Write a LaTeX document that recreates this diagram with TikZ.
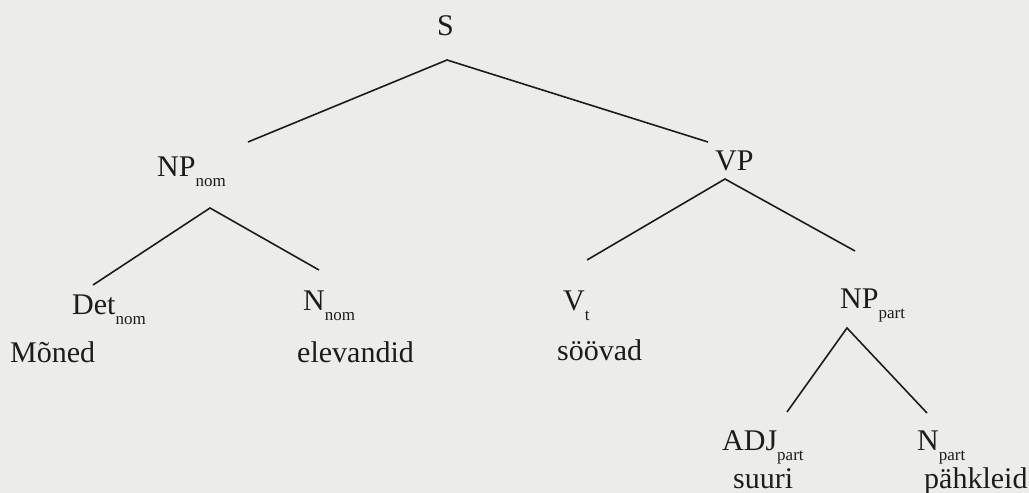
\documentclass[tikz,border=0pt]{standalone}
\usepackage{fontspec}
\setmainfont{Liberation Serif}
\definecolor{paper}{RGB}{236,236,233}
\definecolor{ink}{RGB}{28,28,28}
\newcommand{\cat}[2]{#1\raisebox{-10pt}{\fontsize{17}{17}\selectfont #2}}

\begin{document}
\begin{tikzpicture}
    [ x=1pt, y=-1pt
    , every node/.style={inner sep=0pt, anchor=base west, text=ink, font=\fontsize{30}{30}\selectfont}
    , branch/.style={draw=ink, line width=1.6pt}
    ]
\fill[paper] (0,0) rectangle (1029,493);
\useasboundingbox (0,0) rectangle (1029,493);
\node (s) at (437,35) {S};
\node (npnom) at (157,176) {\cat{NP}{nom}};
\node (vp) at (715,170) {VP};
\node (det) at (72,314) {\cat{Det}{nom}};
\node (nnom) at (303,310) {\cat{N}{nom}};
\node (vt) at (563,310) {\cat{V}{t}};
\node (nppart) at (840,308) {\cat{NP}{part}};
\node (adj) at (722,450) {\cat{ADJ}{part}};
\node (npart) at (917,450) {\cat{N}{part}};
\node (w1) at (10,362) {Mõned};
\node (w2) at (297,362) {elevandid};
\node (w3) at (557,360) {söövad};
\node (w4) at (733,488) {suuri};
\node (w5) at (924,488) {pähkleid};
\coordinate (s-fork) at (447,60);
\coordinate (npnom-top) at (248,142);
\coordinate (vp-top) at (708,142);
\coordinate (npnom-fork) at (210,208);
\coordinate (det-top) at (93,285);
\coordinate (nnom-top) at (319,270);
\coordinate (vp-fork) at (725,179);
\coordinate (vt-top) at (587,260);
\coordinate (nppart-top) at (855,251);
\coordinate (nppart-fork) at (847,328);
\coordinate (adj-top) at (787,412);
\coordinate (npart-top) at (927,413);
\draw[branch] (npnom-top) -- (s-fork) -- (vp-top);
\draw[branch] (det-top) -- (npnom-fork) -- (nnom-top);
\draw[branch] (vt-top) -- (vp-fork) -- (nppart-top);
\draw[branch] (adj-top) -- (nppart-fork) -- (npart-top);
\end{tikzpicture}
\end{document}
